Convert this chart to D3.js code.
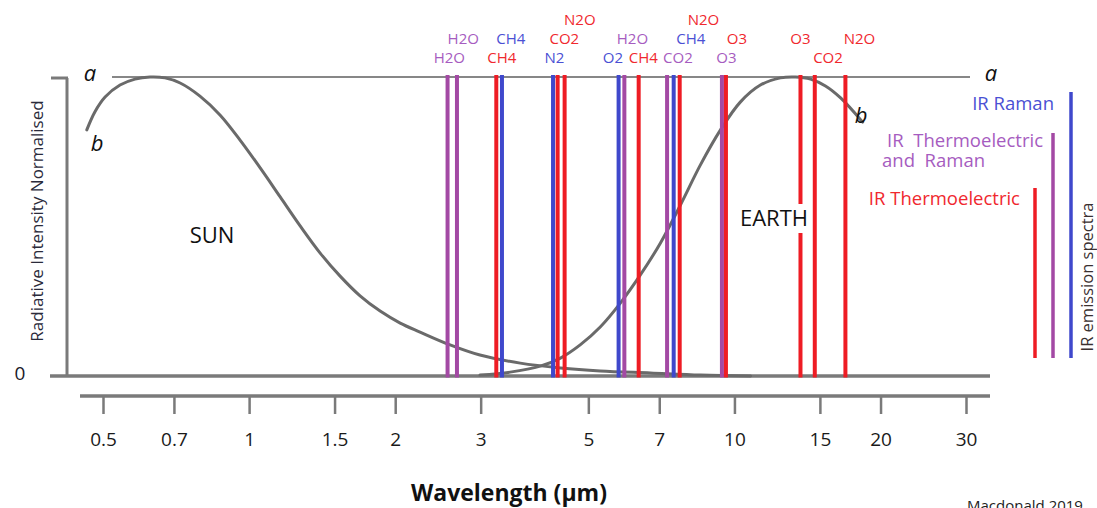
<!DOCTYPE html>
<html><head><meta charset="utf-8">
<script src="https://cdn.jsdelivr.net/npm/d3@7"></script>
<style>
html,body{margin:0;padding:0;background:#fff;}
svg{display:block;font-family:"Open Sans",sans-serif;}
</style></head>
<body><svg id="c" width="1097" height="508"></svg>
<script>
// ---- data ----
const wavelengthTicks = [0.5, 0.7, 1, 1.5, 2, 3, 5, 7, 10, 15, 20, 30];

// Sun curve (wavelength µm, normalised intensity)
const sunWl = [0.463, 0.481, 0.505, 0.542, 0.582, 0.625, 0.671, 0.721, 0.792, 0.871, 0.958, 1.054, 1.159, 1.274, 1.401, 1.54, 1.693, 1.862, 2.048, 2.25, 2.595, 2.99, 3.62, 4.38, 5.29, 6.71, 8.51, 10.8];
const sunI  = [0.823, 0.883, 0.933, 0.973, 0.993, 1.0, 0.997, 0.98, 0.936, 0.873, 0.789, 0.696, 0.599, 0.502, 0.411, 0.334, 0.268, 0.217, 0.177, 0.147, 0.104, 0.070, 0.043, 0.027, 0.017, 0.010, 0.003, 0.0];

// Earth curve
const earthWl = [2.99, 3.45, 3.98, 4.38, 4.81, 5.29, 5.82, 6.40, 7.04, 7.74, 8.51, 9.36, 10.28, 11.31, 12.44, 13.35, 14.35, 15.4, 16.55, 18.37];
const earthI  = [0.003, 0.013, 0.033, 0.060, 0.104, 0.164, 0.244, 0.338, 0.445, 0.572, 0.706, 0.823, 0.916, 0.973, 0.997, 1.0, 0.993, 0.970, 0.930, 0.849];

// Spectral lines
const lineGas  = ["H2O","H2O","CH4","CH4","N2","CO2","N2O","O2","H2O","CH4","CO2","CH4","N2O","O3","O3","O3","CO2","N2O"];
const lineWl   = [2.564, 2.681, 3.231, 3.319, 4.229, 4.322, 4.468, 5.772, 5.932, 6.349, 7.265, 7.496, 7.713, 9.424, 9.605, 13.68, 14.64, 16.93];
const lineType = ["both","both","thermo","raman","raman","thermo","thermo","raman","both","thermo","both","raman","thermo","both","thermo","thermo","thermo","thermo"];

// Gas labels
const labelText = ["H2O","H2O","CH4","CH4","N2","CO2","N2O","O2","H2O","CH4","CO2","CH4","N2O","O3","O3","O3","CO2","N2O"];
const labelType = ["both","both","thermo","raman","raman","thermo","thermo","raman","both","thermo","both","raman","thermo","both","thermo","thermo","thermo","thermo"];
const labelWl   = [2.585, 2.762, 3.316, 3.461, 4.255, 4.462, 4.802, 5.617, 6.163, 6.493, 7.648, 8.134, 8.634, 9.627, 10.12, 13.68, 15.59, 18.10];
const labelTier = [0, 1, 0, 1, 0, 1, 2, 0, 1, 0, 0, 1, 2, 0, 1, 1, 0, 1];

// Legend
const legendText = [["IR Raman"], ["IR  Thermoelectric", "and  Raman"], ["IR Thermoelectric"]];
const legendType = ["raman", "both", "thermo"];

// ---- styles ----
const lineColor = {thermo:"#ee1c24", raman:"#3f48cc", both:"#a349a4"};
const textColor = {thermo:"#f0282e", raman:"#4a50d4", both:"#a65cc0"};
const gray = "#7a7a7a";

const svg = d3.select("#c");
const x = d3.scaleLog().domain([0.5, 30]).range([103, 966]);
const y = d3.scaleLinear().domain([0, 1]).range([376, 77]);

// top reference line "a"
svg.append("line").attr("x1", 112).attr("x2", 970).attr("y1", y(1)).attr("y2", y(1))
  .attr("stroke", "#111").attr("stroke-width", 1.2);

// y axis frame
svg.append("line").attr("x1", 67).attr("x2", 67).attr("y1", y(1)+1).attr("y2", y(0))
  .attr("stroke", gray).attr("stroke-width", 3);
svg.append("line").attr("x1", 51).attr("x2", 68).attr("y1", y(1)+1).attr("y2", y(1)+1)
  .attr("stroke", gray).attr("stroke-width", 3);
// zero baseline
svg.append("line").attr("x1", 50).attr("x2", 990).attr("y1", y(0)).attr("y2", y(0))
  .attr("stroke", gray).attr("stroke-width", 3.5);

// curves
const curve = d3.line().x(d => x(d[0])).y(d => y(d[1])).curve(d3.curveCatmullRom.alpha(0.5));
const sun = sunWl.map((w, i) => [w, sunI[i]]);
const earth = earthWl.map((w, i) => [w, earthI[i]]);
[sun, earth].forEach(p => svg.append("path").attr("d", curve(p)).attr("fill", "none")
  .attr("stroke", "#6a6a6a").attr("stroke-width", 3).attr("stroke-linecap", "round"));

// spectral lines
svg.selectAll("line.spec").data(lineWl).join("line").attr("class", "spec")
  .attr("x1", d => x(d)).attr("x2", d => x(d))
  .attr("y1", y(1) - 2).attr("y2", y(0) + 1.5)
  .attr("stroke", (d, i) => lineColor[lineType[i]]).attr("stroke-width", 4);

// gas labels
const tierY = [63, 44, 25];
svg.selectAll("text.gas").data(labelText).join("text").attr("class", "gas")
  .attr("x", (d, i) => x(labelWl[i])).attr("y", (d, i) => tierY[labelTier[i]])
  .attr("text-anchor", "middle").attr("font-size", 15)
  .attr("fill", (d, i) => textColor[labelType[i]]).text(d => d);

// x axis
const axisY = 396;
svg.append("line").attr("x1", 80).attr("x2", 990).attr("y1", axisY).attr("y2", axisY)
  .attr("stroke", gray).attr("stroke-width", 3.5);
const ax = svg.append("g").attr("transform", `translate(0,${axisY})`)
  .call(d3.axisBottom(x).tickValues(wavelengthTicks).tickFormat(d => String(d))
    .tickSize(18).tickPadding(19));
ax.select(".domain").remove();
ax.selectAll(".tick line").attr("stroke", gray).attr("stroke-width", 2.5);
ax.selectAll(".tick text").attr("font-size", 19).attr("fill", "#1a1a1a")
  .attr("font-family", "Open Sans, sans-serif");

// axis titles
svg.append("text").attr("x", 509).attr("y", 501).attr("text-anchor", "middle")
  .attr("font-size", 23).attr("font-weight", "bold").attr("fill", "#111").text("Wavelength (µm)");
svg.append("text").attr("transform", "translate(43,221) rotate(-90)").attr("text-anchor", "middle")
  .attr("font-size", 17).attr("fill", "#2a2a3a").text("Radiative Intensity Normalised");
svg.append("text").attr("x", 20).attr("y", 380).attr("text-anchor", "middle")
  .attr("font-size", 19).attr("fill", "#1a1a2a").text("0");

// a / b markers
const it = (tx, ty, t) => svg.append("text").attr("x", tx).attr("y", ty).attr("text-anchor", "middle")
  .attr("font-size", 22).attr("font-style", "italic").attr("fill", "#111").text(t);
it(90, 81, "a"); it(991, 81, "a"); it(97, 151, "b"); it(861, 123, "b");

// SUN / EARTH
svg.append("text").attr("x", 212).attr("y", 243).attr("text-anchor", "middle")
  .attr("font-size", 22).attr("fill", "#111").text("SUN");
svg.append("rect").attr("x", 737).attr("y", 204).attr("width", 74).attr("height", 29).attr("fill", "#fff");
svg.append("text").attr("x", 774).attr("y", 226).attr("text-anchor", "middle")
  .attr("font-size", 22).attr("fill", "#111").text("EARTH");

// legend
const legX = [1071, 1053, 1035];
const legTop = [92, 133, 188];
const legTextY = [110, 147, 205];
const legGap = [17, 10, 15];
legendType.forEach((t, i) => {
  svg.append("line").attr("x1", legX[i]).attr("x2", legX[i]).attr("y1", legTop[i]).attr("y2", 358)
    .attr("stroke", lineColor[t]).attr("stroke-width", 3.5);
  legendText[i].forEach((s, j) => {
    svg.append("text").attr("x", i === 1 && j === 1 ? 882 : legX[i] - legGap[i]).attr("y", legTextY[i] + j * 20)
      .attr("text-anchor", i === 1 && j === 1 ? "start" : "end")
      .attr("font-size", 18.5).attr("fill", textColor[t]).style("white-space", "pre").text(s);
  });
});
svg.append("text").attr("transform", "translate(1093,277) rotate(-90)").attr("text-anchor", "middle")
  .attr("font-size", 16.5).attr("fill", "#3a3030").text("IR emission spectra");

// credit
svg.append("text").attr("x", 1025).attr("y", 511).attr("text-anchor", "middle")
  .attr("font-size", 15).attr("fill", "#222").text("Macdonald 2019");
</script></body></html>
